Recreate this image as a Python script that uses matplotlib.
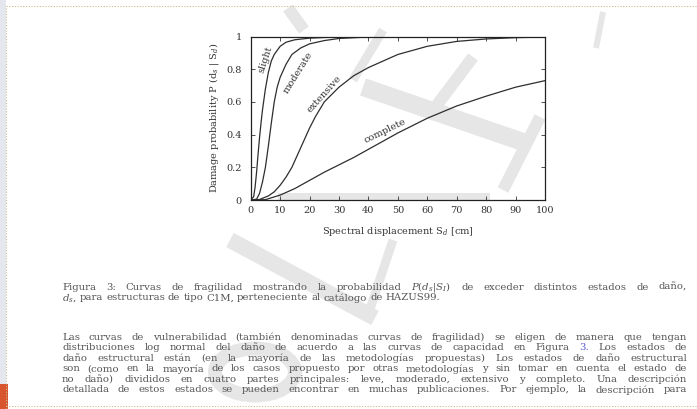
import numpy as np
import matplotlib.pyplot as plt
from matplotlib.lines import Line2D
from matplotlib.patches import Rectangle, Circle

# fragility curves (spectral displacement in cm -> probability)
x_slight = [0, 1, 1.5, 2, 2.5, 3, 3.5, 4, 5, 6, 7, 8, 10, 12, 15, 20, 30, 100]
p_slight = [0, 0.02, 0.08, 0.17, 0.28, 0.38, 0.47, 0.55, 0.68, 0.78, 0.85, 0.89, 0.94, 0.965, 0.98, 0.99, 0.998, 1.0]

x_moderate = [0, 2, 3, 4, 5, 6, 7, 8, 9, 10, 12, 14, 17, 20, 25, 30, 40, 100]
p_moderate = [0, 0.005, 0.04, 0.11, 0.2, 0.33, 0.47, 0.6, 0.69, 0.75, 0.83, 0.89, 0.93, 0.955, 0.975, 0.988, 0.997, 1.0]

x_extensive = [0, 3, 6, 8, 10, 12, 14, 16, 18, 20, 22, 25, 30, 35, 40, 50, 60, 70, 80, 90, 100]
p_extensive = [0, 0.003, 0.025, 0.05, 0.09, 0.14, 0.2, 0.28, 0.36, 0.44, 0.51, 0.6, 0.69, 0.76, 0.81, 0.89, 0.94, 0.97, 0.985, 0.993, 0.997]

x_complete = [0, 5, 10, 15, 20, 25, 30, 35, 40, 50, 60, 70, 80, 90, 100]
p_complete = [0, 0.002, 0.03, 0.07, 0.12, 0.17, 0.215, 0.26, 0.31, 0.41, 0.50, 0.575, 0.635, 0.69, 0.73]

xticks = list(range(0, 101, 10))
yticks = [0, 0.2, 0.4, 0.6, 0.8, 1]
ytick_labels = ["0", "0.2", "0.4", "0.6", "0.8", "1"]

caption = [
    r"Figura 3: Curvas de fragilidad mostrando la probabilidad $P(d_s|S_I)$ de exceder distintos estados de daño,",
    r"$d_s$, para estructuras de tipo C1M, perteneciente al catálogo de HAZUS99.",
]
paragraph = [
    "Las curvas de vulnerabilidad (también denominadas curvas de fragilidad) se eligen de manera que tengan",
    "distribuciones log normal del daño de acuerdo a las curvas de capacidad en Figura 3. Los estados de",
    "daño estructural están (en la mayoría de las metodologías propuestas) Los estados de daño estructural",
    "son (como en la mayoría de los casos propuesto por otras metodologías y sin tomar en cuenta el estado de",
    "no daño) divididos en cuatro partes principales: leve, moderado, extensivo y completo. Una descripción",
    "detallada de estos estados se pueden encontrar en muchas publicaciones. Por ejemplo, la descripción para",
]

W, H = 697, 409
plt.rcParams['font.family'] = ['DejaVu Serif']
plt.rcParams['mathtext.fontset'] = 'dejavuserif'

fig = plt.figure(figsize=(W / 100, H / 100), dpi=100)


def px(x, y):
    # pixel position (from top-left) -> figure fraction
    return x / W, 1 - y / H


# watermark strokes, very light
wm = '#e6e6e6'
def stroke(p0, p1, w):
    (x0, y0), (x1, y1) = px(*p0), px(*p1)
    fig.add_artist(Line2D([x0, x1], [y0, y1], lw=w * 0.72, color=wm,
                          solid_capstyle='butt', zorder=0))

stroke((363, 87), (523, 142), 18)
stroke((540, 117), (503, 190), 12)
stroke((473, 57), (437, 105), 12)
stroke((383, 30), (353, 80), 9)
stroke((230, 240), (375, 318), 16)
stroke((393, 240), (368, 315), 9)
stroke((288, 8), (304, 30), 12)
stroke((603, 12), (596, 48), 6)
fig.add_artist(Rectangle(px(278, 200), (490 - 278) / W, 7 / H, color=wm, zorder=0, lw=0))
cx, cy = px(255, 372)
fig.add_artist(Circle((cx, cy), 40 / W, transform=fig.transFigure, fill=False,
                      ec=wm, lw=14 * 0.72, zorder=0))

# page border and margin decorations
fig.add_artist(Rectangle((0, 0), 6 / W, 1, color='#e4e8ee', zorder=0, lw=0))
fig.add_artist(Rectangle((0, 0), 8 / W, 25 / H, color='#d9552e', zorder=1, lw=0))
border = dict(color='#c9bd8e', lw=0.8, ls=(0, (1, 1.5)), zorder=1)
fig.add_artist(Line2D([6 / W, 1], [1 - 6 / H] * 2, **border))
fig.add_artist(Line2D([6 / W] * 2, [0, 1 - 6 / H], **border))
fig.add_artist(Line2D([6 / W, 1], [1 - 406 / H] * 2, **border))

# the chart
ax = fig.add_axes([250.7 / W, 1 - 200 / H, 294.3 / W, 163.5 / H])
ax.set_facecolor('none')
lc = '#2e2e2e'
for xs, ps in [(x_slight, p_slight), (x_moderate, p_moderate),
               (x_extensive, p_extensive), (x_complete, p_complete)]:
    ax.plot(xs, ps, color=lc, lw=0.9)

ax.set_xlim(0, 100)
ax.set_ylim(0, 1)
ax.set_xticks(xticks)
ax.set_yticks(yticks)
ax.set_yticklabels(ytick_labels)
ax.tick_params(direction='in', length=3, width=0.6, top=True, right=True,
               labelsize=7, colors='#333333', pad=4)
ax.tick_params(axis='y', pad=6.5)
for s in ax.spines.values():
    s.set_linewidth(0.9)
    s.set_color('#222222')

ax.set_xlabel(r"Spectral displacement S$_d$ [cm]", fontsize=7, color='#333333')
ax.set_ylabel(r"Damage probability P (d$_s$ | S$_d$)", fontsize=7, color='#333333')
ax.xaxis.set_label_coords(0.5, -0.15)
ax.yaxis.set_label_coords(-0.10, 0.5)

lab = dict(fontsize=7, color='#333333', ha='center', va='center', rotation_mode='anchor')
ax.text(4.9, 0.86, "slight", rotation=72, **lab)
ax.text(16.0, 0.78, "moderate", rotation=58, **lab)
ax.text(25.0, 0.645, "extensive", rotation=48, **lab)
ax.text(45.6, 0.42, "complete", rotation=26, **lab)

# document text below the figure
renderer = fig.canvas.get_renderer()
tc = '#555555'
x_left, x_right = 62, 687


def justified(line, y, size, stretch=True):
    words = line.split(" ")
    texts = []
    for w in words:
        color = '#5a5ad0' if w == "3." else tc
        texts.append(fig.text(0, px(0, y)[1], w, fontsize=size, color=color,
                              ha='left', va='center'))
    widths = [t.get_window_extent(renderer).width for t in texts]
    if stretch:
        gap = (x_right - x_left - sum(widths)) / (len(words) - 1)
    else:
        gap = renderer.points_to_pixels(size) * 0.3
    x = x_left
    for t, w in zip(texts, widths):
        t.set_x(x / W)
        x += w + gap


justified(caption[0], 287, 7.3)
justified(caption[1], 298, 7.3, stretch=False)
for i, line in enumerate(paragraph):
    justified(line, 337 + i * 10.6, 7.3)

fig.savefig("out.png", dpi=100)
